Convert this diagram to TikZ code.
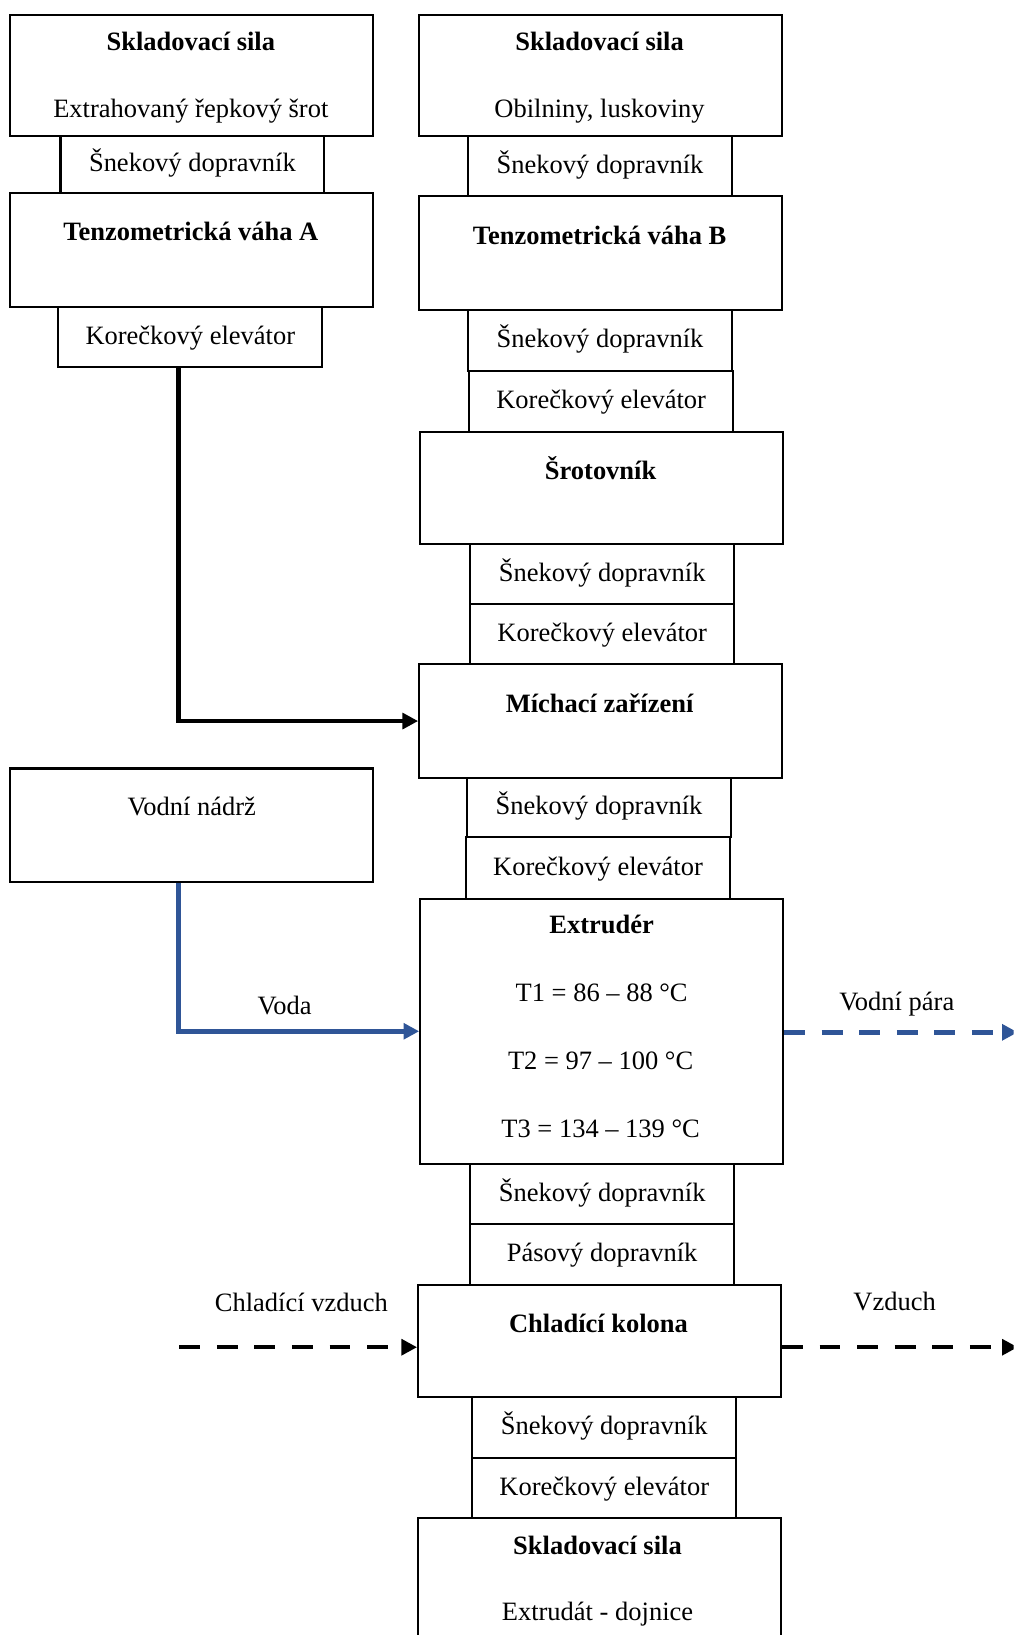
\documentclass[tikz,border=0pt]{standalone}
\usepackage{fontspec}
\setmainfont{Liberation Serif}
\usetikzlibrary{arrows.meta}
\definecolor{flowblue}{RGB}{47,85,151}
\begin{document}
\begin{tikzpicture}[x=1pt,y=-1pt,
  every node/.style={font=\fontsize{25.4}{30}\selectfont, text height=17pt, text depth=0pt, inner sep=0pt},
  box/.style={draw, line width=2pt, anchor=north west},
  bigbox/.style={box, minimum width=348pt},
  smallbox/.style={box, minimum width=253pt, text depth=3pt},
  lbl/.style={anchor=center},
  bold/.style={anchor=center, font=\fontsize{25.4}{30}\selectfont\bfseries},
  flow/.style={line width=4.5pt, -{Triangle[length=15pt,width=15pt]}},
  dflow/.style={line width=4.3pt, dash pattern=on 20pt off 16pt, -{Triangle[length=15pt,width=15pt]}}]
\useasboundingbox (0,0) rectangle (972,1568);
\clip (0,0) rectangle (972,1568);

% ---------- left column ----------
\node[bigbox, minimum height=116pt] (l1) at (9,13) {};
\node[bold] (l1a) at (183,40) {Skladovací sila};
\node[lbl] (l1b) at (183,104) {Extrahovaný řepkový šrot};
\node[smallbox, minimum height=55pt] (lsn) at (57,129) {Šnekový dopravník};
\node[bigbox, minimum height=109pt] (ltz) at (9,184) {};
\node[bold] (ltzt) at (183,222) {Tenzometrická váha A};
\node[smallbox, minimum height=58pt] (lko) at (55,293) {Korečkový elevátor};
\node[bigbox, minimum height=109pt] (lvn) at (9,736) {};
\node[lbl] (lvnt) at (184,774) {Vodní nádrž};

% ---------- right column ----------
\node[bigbox, minimum height=116pt] (r1) at (401,13) {};
\node[bold] (r1a) at (575,40) {Skladovací sila};
\node[lbl] (r1b) at (575,104) {Obilniny, luskoviny};
\node[smallbox, minimum height=58pt] (rsn1) at (448,129) {Šnekový dopravník};
\node[bigbox, minimum height=109pt] (rtz) at (401,187) {};
\node[bold] (rtzt) at (575,226) {Tenzometrická váha B};
\node[smallbox, minimum height=59pt] (rsn2) at (448,296) {Šnekový dopravník};
\node[smallbox, minimum height=58pt] (rko2) at (449,355) {Korečkový elevátor};
\node[bigbox, minimum height=108pt] (rsr) at (402,413) {};
\node[bold] (rsrt) at (576,451) {Šrotovník};
\node[smallbox, minimum height=57pt] (rsn3) at (450,521) {Šnekový dopravník};
\node[smallbox, minimum height=58pt] (rko3) at (450,578) {Korečkový elevátor};
\node[bigbox, minimum height=109pt] (rmi) at (401,636) {};
\node[bold] (rmit) at (575,675) {Míchací zařízení};
\node[smallbox, minimum height=57pt] (rsn4) at (447,745) {Šnekový dopravník};
\node[smallbox, minimum height=59pt] (rko4) at (446,802) {Korečkový elevátor};
\node[bigbox, minimum height=254pt] (rex) at (402,861) {};
\node[bold] (rext) at (577,887) {Extrudér};
\node[lbl] (rt1) at (577,952) {T1 = 86 – 88 °C};
\node[lbl] (rt2) at (576,1017) {T2 = 97 – 100 °C};
\node[lbl] (rt3) at (576,1082) {T3 = 134 – 139 °C};
\node[smallbox, minimum height=58pt] (rsn5) at (450,1115) {Šnekový dopravník};
\node[smallbox, minimum height=58pt] (rpa) at (450,1173) {Pásový dopravník};
\node[bigbox, minimum height=108pt] (rkl) at (400,1231) {};
\node[bold] (rklt) at (574,1269) {Chladící kolona};
\node[smallbox, minimum height=58pt] (rsn6) at (452,1339) {Šnekový dopravník};
\node[smallbox, minimum height=58pt] (rko6) at (452,1397) {Korečkový elevátor};
\node[bigbox, minimum height=160pt] (rend) at (400,1455) {};
\node[bold] (renda) at (573,1482) {Skladovací sila};
\node[lbl] (rendb) at (573,1546) {Extrudát - dojnice};

% ---------- connectors ----------
\draw[flow] ([xshift=-11pt]lko.south) |- (rmi.west);
\draw[flow, flowblue] ([xshift=-12.5pt]lvn.south) |- (rex.west);
\node[lbl] (voda) at (273,964) {Voda};

\coordinate (pe1) at (976,990);
\draw[dflow, flowblue] (rex.east |- pe1) -- (pe1);
\node[lbl] (para) at (860,961) {Vodní pára};

\coordinate (cs) at (172,1292);
\draw[dflow] (cs) -- (cs -| rkl.west);
\node[lbl] (chv) at (289,1249) {Chladící vzduch};

\coordinate (pe2) at (976,1292);
\draw[dflow] (rkl.east |- pe2) -- (pe2);
\node[lbl] (vzd) at (858,1248) {Vzduch};
\end{tikzpicture}
\end{document}
